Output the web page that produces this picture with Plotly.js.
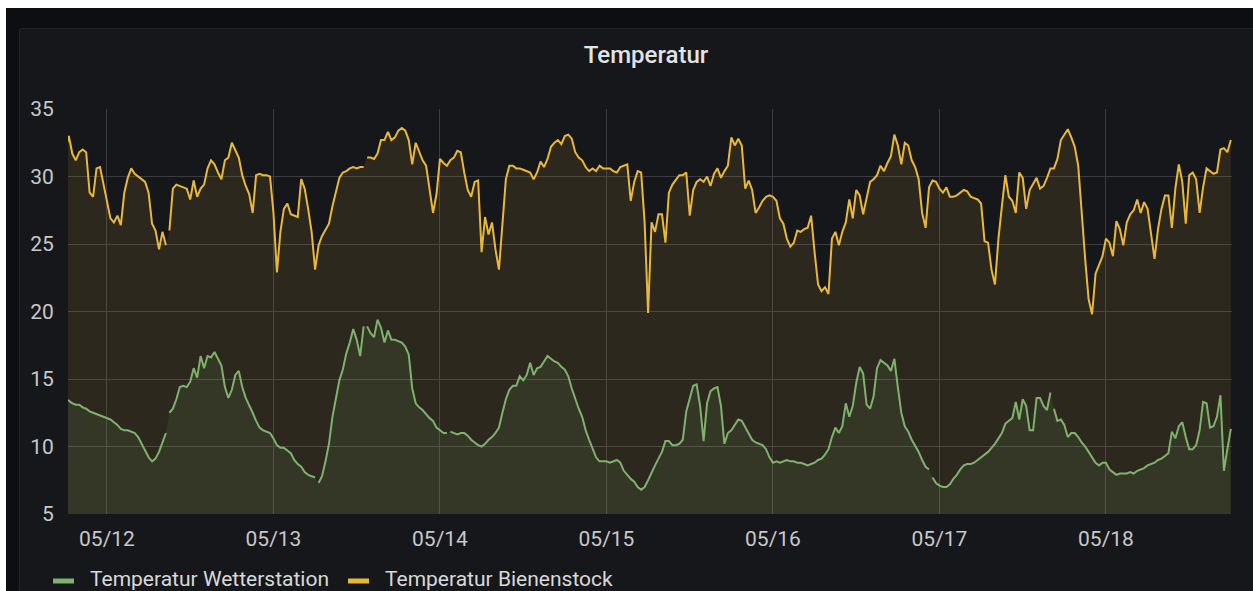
<!DOCTYPE html>
<html>
<head>
<meta charset="utf-8">
<script src="https://cdn.plot.ly/plotly-3.0.1.min.js"></script>
<style>
  html, body { margin:0; padding:0; background:#ffffff; overflow:hidden; width:1253px; height:591px; }
  #bg { position:absolute; left:6px; top:8px; width:1247px; height:583px; background:#0d0e12; }
  #panel { position:absolute; left:19px; top:28px; width:1250px; height:600px; background:#15171b; border:1px solid #22242a; border-radius:3px; }
  #chart { position:absolute; left:0; top:0; width:1253px; height:591px; }
</style>
</head>
<body>
<div id="bg"></div>
<div id="panel"></div>
<div id="chart"></div>
<script>
// ---- data (30-minute samples starting 2019-05-11 18:00) ----
const seriesStart = '2019-05-11T18:00:00Z';
const stepMinutes = 30;

const seriesNames = ['Temperatur Wetterstation', 'Temperatur Bienenstock'];

const bienenstock = [
  32.0,33.0,31.7,31.2,31.8,32.0,31.8,28.8,28.5,30.6,30.7,29.4,
  28.3,26.9,26.6,27.1,26.4,28.8,29.9,30.6,30.2,30.0,29.8,29.6,
  28.8,26.5,26.0,24.6,25.9,24.9,26.0,29.1,29.4,29.3,29.2,29.1,
  28.3,29.7,28.5,29.1,29.4,30.6,31.2,30.9,30.3,29.8,31.2,31.4,
  32.5,32.0,31.4,30.1,29.3,28.7,27.3,30.1,30.2,30.1,30.1,30.0,
  27.3,22.9,25.9,27.6,28.0,27.2,27.1,27.0,29.8,29.1,27.6,25.9,
  23.1,24.9,25.6,26.0,26.5,27.8,28.8,29.9,30.3,30.4,30.6,30.7,
  30.6,30.7,30.7,31.4,31.4,31.3,31.7,32.7,32.7,33.3,32.7,32.9,
  33.4,33.6,33.4,32.7,30.9,32.5,31.9,31.2,30.8,29.1,27.3,28.7,
  31.3,31.0,30.8,31.2,31.4,31.9,31.8,30.3,29.0,28.5,29.6,29.7,
  24.4,27.0,25.7,26.6,24.6,23.1,26.4,29.8,30.8,30.8,30.6,30.6,
  30.5,30.4,30.3,29.8,30.3,31.1,30.7,31.3,32.2,32.5,32.7,32.4,
  33.0,33.1,32.8,31.8,31.4,31.2,30.7,30.4,30.6,30.4,30.8,30.6,
  30.6,30.6,30.4,30.3,30.7,30.8,30.9,28.2,29.6,30.4,30.3,26.6,
  19.9,26.6,25.9,27.2,27.2,25.1,28.8,29.4,29.8,30.1,30.1,30.3,
  27.1,29.0,29.6,29.8,29.6,30.0,29.3,30.2,30.6,29.9,30.4,30.8,
  32.9,32.3,32.8,32.3,29.1,29.7,29.0,27.3,27.7,28.2,28.5,28.6,
  28.5,28.2,26.9,26.5,25.4,24.8,25.1,26.0,25.9,26.1,26.2,27.1,
  24.4,22.0,21.5,21.8,21.3,25.4,25.9,24.9,25.9,26.6,28.3,26.9,
  29.0,28.6,27.2,28.3,29.6,29.8,30.1,30.8,30.4,31.0,31.5,33.1,
  32.3,30.9,32.5,32.3,31.2,30.7,29.8,27.3,26.2,29.2,29.7,29.6,
  29.1,28.8,29.2,28.5,28.5,28.6,28.8,29.0,28.9,28.5,28.4,28.3,
  28.0,25.2,25.1,23.1,22.0,25.4,27.8,30.1,28.5,28.2,27.3,30.3,
  29.9,27.6,29.0,29.5,29.9,29.1,29.3,29.9,30.6,30.6,31.3,32.7,
  33.1,33.5,32.9,32.2,30.8,27.1,23.9,20.9,19.8,22.8,23.5,24.1,
  25.4,25.1,24.1,26.7,26.1,24.9,26.6,27.2,27.5,28.3,27.3,28.1,
  27.6,25.6,23.9,26.1,27.6,28.6,28.6,26.2,29.1,30.9,29.6,26.5,
  30.1,30.3,29.8,27.3,29.2,30.6,30.4,30.2,30.3,32.0,32.1,31.8,
  32.7
];

const wetterstation = [
  13.5,13.4,13.2,13.1,13.1,12.9,12.8,12.6,12.5,12.4,12.3,12.2,
  12.1,12.0,11.8,11.6,11.3,11.2,11.2,11.1,11.0,10.7,10.2,9.8,
  9.2,8.9,9.1,9.6,10.3,11.0,12.5,12.8,13.5,14.4,14.5,14.4,
  14.8,15.8,15.1,16.7,15.8,16.7,16.6,17.0,16.5,16.0,14.4,13.6,
  14.2,15.3,15.6,14.4,13.6,13.1,12.5,11.9,11.4,11.2,11.1,11.0,
  10.6,10.1,9.9,9.9,9.7,9.5,9.0,8.7,8.5,8.1,7.9,7.8,
  7.7,7.3,7.8,8.9,10.2,12.2,13.6,14.9,15.7,16.9,17.7,18.7,
  17.9,16.7,18.9,18.9,18.4,18.1,19.4,18.8,17.7,18.6,17.9,17.9,
  17.8,17.7,17.4,16.8,14.3,13.2,12.9,12.7,12.4,12.1,11.9,11.4,
  11.2,11.0,11.0,11.1,11.0,10.9,11.0,11.0,10.8,10.5,10.3,10.1,
  10.0,10.2,10.5,10.7,11.0,11.4,12.5,13.5,14.2,14.5,14.5,15.2,
  14.9,15.3,16.2,15.3,15.8,15.9,16.3,16.7,16.5,16.3,16.2,15.9,
  15.7,15.2,14.3,13.5,12.8,12.2,11.2,10.5,9.8,9.2,8.9,8.9,
  8.9,8.8,8.9,9.0,8.8,8.2,7.9,7.6,7.4,7.0,6.8,7.0,
  7.5,8.1,8.6,9.1,9.6,10.4,10.4,10.1,10.1,10.2,10.5,12.6,
  13.6,14.5,14.6,13.0,10.4,13.2,14.1,14.3,14.4,13.0,10.2,11.0,
  11.2,11.6,12.0,11.9,11.4,10.9,10.5,10.3,10.2,10.1,9.8,9.2,
  8.8,8.9,8.8,8.9,9.0,8.9,8.9,8.8,8.8,8.7,8.6,8.7,
  8.8,9.0,9.1,9.4,9.8,10.7,11.4,11.0,11.5,13.2,12.2,13.0,
  14.7,15.9,15.4,13.1,12.8,13.7,15.8,16.4,16.2,16.0,15.6,16.5,
  14.4,12.5,11.5,11.1,10.5,10.1,9.6,9.0,8.5,8.3,7.7,7.3,
  7.1,7.0,7.0,7.2,7.6,7.9,8.3,8.6,8.7,8.7,8.8,9.0,
  9.2,9.4,9.6,9.9,10.2,10.6,11.0,11.7,11.9,12.1,13.3,12.0,
  13.5,13.0,11.2,11.2,13.6,13.6,13.0,12.7,14.0,12.8,11.9,12.0,
  11.6,10.7,11.0,11.0,10.7,10.3,10.0,9.6,9.2,8.8,8.6,8.8,
  8.8,8.3,8.1,7.9,8.0,8.0,8.0,8.1,8.0,8.2,8.3,8.4,
  8.6,8.7,8.8,9.0,9.1,9.3,9.5,11.1,10.6,11.5,11.8,10.7,
  9.8,9.8,10.1,11.2,13.3,13.2,11.4,11.5,12.2,13.8,8.2,9.8,
  11.3
];

// times where the data has holes (no sample -> line and fill break)
const gapsBienenstock = ['2019-05-12 08:48', '2019-05-13 13:03'];
const gapsWetterstation = ['2019-05-12 08:48', '2019-05-13 06:24', '2019-05-13 13:03',
                           '2019-05-14 01:24', '2019-05-16 22:39', '2019-05-17 16:15'];

const xTickVals = ['2019-05-12', '2019-05-13', '2019-05-14', '2019-05-15', '2019-05-16', '2019-05-17', '2019-05-18'];
const xTickText = ['05/12', '05/13', '05/14', '05/15', '05/16', '05/17', '05/18'];
const yTickVals = [5, 10, 15, 20, 25, 30, 35];
const yTickText = ['5', '10', '15', '20', '25', '30', '35'];

// ---- build ----
const GREEN = '#7eb26d', YELLOW = '#eab839';
function fmt(ms) { return new Date(ms).toISOString().slice(0, 19).replace('T', ' '); }
function build(vals, gaps) {
  const t0 = Date.parse(seriesStart), st = stepMinutes * 60000;
  const pts = vals.map((v, i) => ({ t: t0 + i * st, v: v }));
  gaps.forEach(g => pts.push({ t: Date.parse(g.replace(' ', 'T') + ':00Z'), v: null }));
  pts.sort((a, b) => a.t - b.t);
  return { x: pts.map(p => fmt(p.t)), y: pts.map(p => p.v) };
}
const b = build(bienenstock, gapsBienenstock);
const w = build(wetterstation, gapsWetterstation);

const traces = [
  { x: b.x, y: b.y, name: seriesNames[1], type: 'scatter', mode: 'lines',
    line: { color: YELLOW, width: 2 }, fill: 'tozeroy', fillcolor: 'rgba(234,184,57,0.11)',
    connectgaps: false, hoverinfo: 'skip' },
  { x: w.x, y: w.y, name: seriesNames[0], type: 'scatter', mode: 'lines',
    line: { color: GREEN, width: 2 }, fill: 'tozeroy', fillcolor: 'rgba(126,178,109,0.11)',
    connectgaps: false, hoverinfo: 'skip' }
];

// pixel helpers for the plot box (left 68, right 1232, top 109, bottom 514)
const PL = 68, PR = 1232, PT = 109, PB = 514;
const px = v => (v - PL) / (PR - PL);
const py = v => (PB - v) / (PB - PT);

const legendY = py(579);
const layout = {
  width: 1253, height: 591,
  margin: { l: PL, r: 1253 - PR, t: PT, b: 591 - PB, pad: 0 },
  paper_bgcolor: 'rgba(0,0,0,0)', plot_bgcolor: 'rgba(0,0,0,0)',
  font: { family: 'Roboto, "Open Sans", sans-serif', color: '#c7c8ca', size: 21 },
  showlegend: false,
  title: { text: 'Temperatur', font: { family: 'Roboto, sans-serif', size: 24, color: '#e2e3e4', weight: 500 },
           xref: 'container', x: 646 / 1253, xanchor: 'center', yref: 'container', y: 1 - 55 / 591, yanchor: 'middle' },
  xaxis: { type: 'date', range: ['2019-05-11 18:23', '2019-05-18 18:10'],
           tickmode: 'array', tickvals: xTickVals, ticktext: xTickText,
           showgrid: true, gridcolor: '#3a3c41', gridwidth: 1, zeroline: false, showline: false,
           ticks: 'outside', ticklen: 6, tickcolor: 'rgba(0,0,0,0)', tickfont: { size: 21, color: '#c7c8ca' },
           fixedrange: true },
  yaxis: { range: [5, 35], tickmode: 'array', tickvals: yTickVals, ticktext: yTickText,
           showgrid: true, gridcolor: '#3a3c41', gridwidth: 1, zeroline: false, showline: false,
           ticks: 'outside', ticklen: 9, tickcolor: 'rgba(0,0,0,0)', tickfont: { size: 21, color: '#c7c8ca' },
           fixedrange: true },
  shapes: [
    { type: 'line', xref: 'paper', yref: 'paper', x0: px(53), x1: px(74), y0: py(581), y1: py(581),
      line: { color: GREEN, width: 5 } },
    { type: 'line', xref: 'paper', yref: 'paper', x0: px(348), x1: px(369), y0: py(581), y1: py(581),
      line: { color: YELLOW, width: 5 } }
  ],
  annotations: [
    { xref: 'paper', yref: 'paper', x: px(89), y: legendY, xanchor: 'left', yanchor: 'middle', showarrow: false,
      borderpad: 0, text: seriesNames[0], font: { size: 21, color: '#d8d9da' } },
    { xref: 'paper', yref: 'paper', x: px(384), y: legendY, xanchor: 'left', yanchor: 'middle', showarrow: false,
      borderpad: 0, text: seriesNames[1], font: { size: 21, color: '#d8d9da' } }
  ]
};

Plotly.newPlot('chart', traces, layout, { displayModeBar: false, staticPlot: true });
</script>
</body>
</html>
